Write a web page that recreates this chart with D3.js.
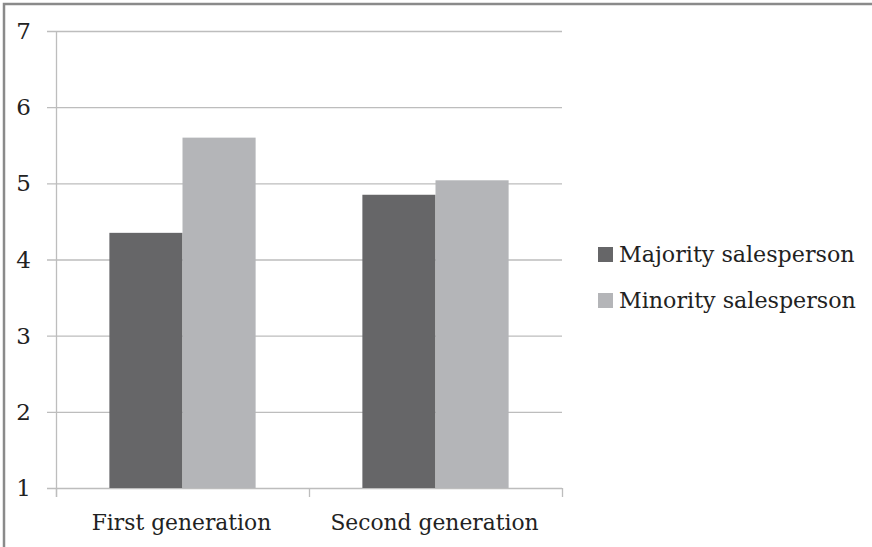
<!DOCTYPE html>
<html><head><meta charset="utf-8">
<script src="https://cdn.jsdelivr.net/npm/d3@7"></script>
<style>body{margin:0;background:#fff}svg{display:block}</style>
</head><body><svg id="c" width="872" height="547"></svg>
<script>
const categories = ["First generation", "Second generation"];
const seriesNames = ["Majority salesperson", "Minority salesperson"];
const majority = [4.35, 4.85];
const minority = [5.60, 5.04];
const yTicks = [1, 2, 3, 4, 5, 6, 7];
const colors = ["#666668", "#b4b5b8"];
const FONT = "DejaVu Serif, Liberation Serif, serif";

const svg = d3.select("#c");
svg.append("rect").attr("x", 4).attr("y", 4).attr("width", 900).attr("height", 600)
  .attr("fill", "none").attr("stroke", "#8a8a8a").attr("stroke-width", 2.5);

const m = {l: 56, r: 562, t: 31, b: 488};
const x = d3.scaleBand().domain(categories).range([m.l, m.r]).paddingInner(0).paddingOuter(0);
const y = d3.scaleLinear().domain([1, 7]).range([m.b, m.t]);

svg.append("g").selectAll("line").data(yTicks).join("line")
  .attr("x1", 47).attr("x2", m.r).attr("y1", d => y(d) + 0.5).attr("y2", d => y(d) + 0.5)
  .attr("stroke", "#bdbdbd").attr("stroke-width", 1.3);

svg.append("line").attr("x1", m.l + 0.5).attr("x2", m.l + 0.5).attr("y1", m.t).attr("y2", m.b + 9)
  .attr("stroke", "#bdbdbd").attr("stroke-width", 1.3);

const xt = [m.l, ...categories.map(c => x(c) + x.bandwidth())];
svg.append("g").selectAll("line").data(xt).join("line")
  .attr("x1", d => d + 0.5).attr("x2", d => d + 0.5).attr("y1", m.b).attr("y2", m.b + 9)
  .attr("stroke", "#bdbdbd").attr("stroke-width", 1.3);

svg.append("g").selectAll("text").data(yTicks).join("text")
  .attr("x", 31).attr("y", d => y(d)).attr("dy", "0.35em").attr("text-anchor", "end")
  .attr("font-family", FONT).attr("fill", "#222").attr("font-size", 23).text(d => d);

const inner = d3.scaleBand().domain(seriesNames).range([0, x.bandwidth()]).paddingOuter(0.73).paddingInner(0);
const data = [];
categories.forEach((c, i) => {
  data.push({c, s: seriesNames[0], v: majority[i], col: colors[0]});
  data.push({c, s: seriesNames[1], v: minority[i], col: colors[1]});
});
svg.append("g").selectAll("rect").data(data).join("rect")
  .attr("x", d => x(d.c) + inner(d.s)).attr("width", inner.bandwidth())
  .attr("y", d => y(d.v)).attr("height", d => y(1) - y(d.v))
  .attr("fill", d => d.col);

svg.append("g").selectAll("text").data(categories).join("text")
  .attr("x", d => x(d) + x.bandwidth() / 2 - 1).attr("y", 530).attr("text-anchor", "middle")
  .attr("font-family", FONT).attr("fill", "#222").attr("font-size", 21.8).text(d => d);

const lg = svg.append("g");
seriesNames.forEach((s, i) => {
  const yy = 247 + i * 46;
  lg.append("rect").attr("x", 598).attr("y", yy).attr("width", 15).attr("height", 15).attr("fill", colors[i]);
  lg.append("text").attr("x", 619).attr("y", yy + 15).attr("font-family", FONT).attr("fill", "#222")
    .attr("font-size", 22.2).text(s);
});
</script></body></html>
